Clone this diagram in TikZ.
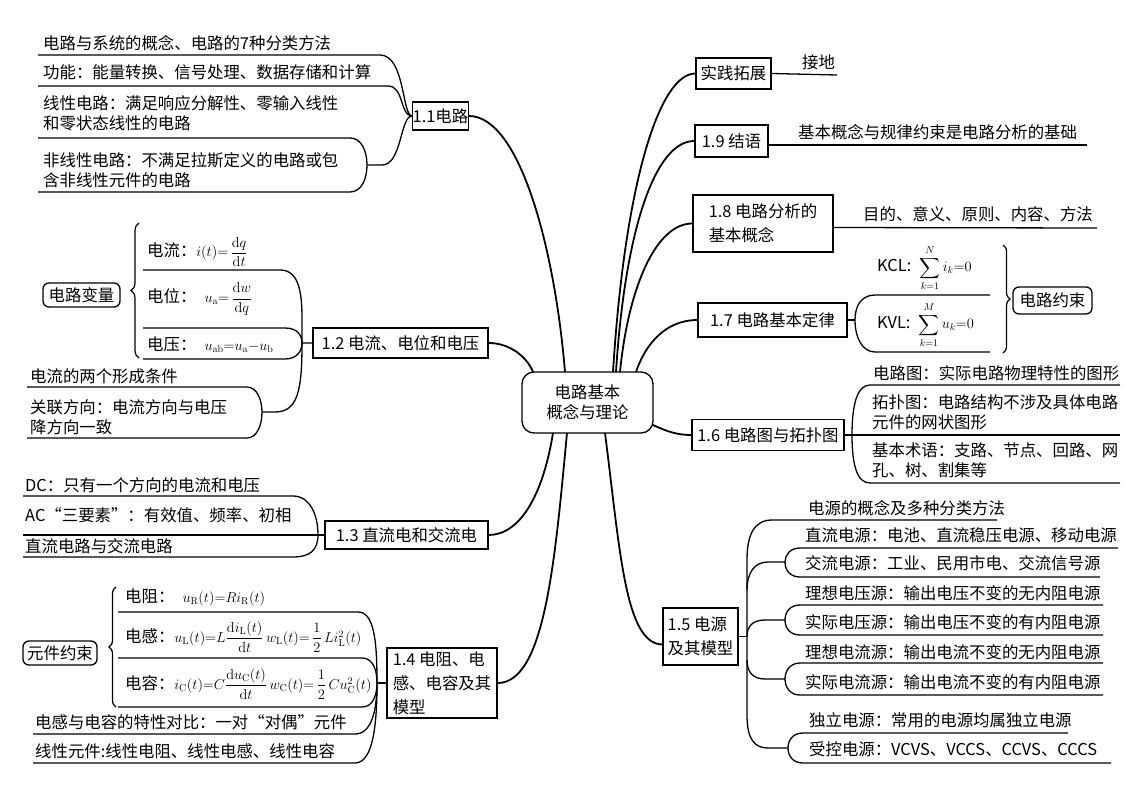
\documentclass[tikz,border=0pt]{standalone}
\usepackage{amsmath}
\usepackage[no-math]{fontspec}
\setmainfont{Noto Sans CJK SC}
\usetikzlibrary{decorations.pathreplacing}
\newcommand\fs{\fontsize{16.4}{20}\selectfont}
\newcommand\fsb{\fontsize{16.4}{24}\selectfont}
\newcommand\mth{\fontsize{14.4}{17}\selectfont}
\newcommand\rmd{\mathrm{d}}
\begin{document}
\begin{tikzpicture}[x=1pt,y=-1pt,
  box/.style={draw,line width=1.3pt,inner sep=0pt,font=\fs,align=center},
  rbox/.style={draw,line width=1.3pt,rounded corners=6pt,inner sep=0pt,font=\fs},
  txt/.style={anchor=west,inner sep=0pt,font=\fs,align=left},
  ln/.style={line width=1.3pt},
  br/.style={line width=1.8pt},
  curly/.style={decorate,decoration={brace,amplitude=8pt},line width=1.2pt}]
\fill[white] (0,0) rectangle (1138,803);
\useasboundingbox (0,0) rectangle (1138,803);

% ---------- boxes ----------
\node[box,rounded corners=12pt,minimum width=131pt,minimum height=61pt] (c) at (587.5,402.5) {电路基本\\概念与理论};
\node[box,minimum width=55pt,minimum height=28pt] (b11) at (440.5,116) {1.1电路};
\node[box,minimum width=175pt,minimum height=30pt] (b12) at (400.5,343) {1.2 电流、电位和电压};
\node[box,minimum width=163pt,minimum height=28pt] (b13) at (406.5,535) {1.3 直流电和交流电};
\node[box,align=left,font=\fsb,minimum width=110pt,minimum height=70pt] (b14) at (442,683) {1.4 电阻、电\\感、电容及其\\模型};
\node[box,align=left,font=\fsb,minimum width=75pt,minimum height=57pt] (b15) at (700.5,636.5) {1.5 电源\\及其模型};
\node[box,minimum width=152pt,minimum height=31pt] (b16) at (768,435) {1.6 电路图与拓扑图};
\node[box,minimum width=149pt,minimum height=34pt] (b17) at (772.5,320) {1.7 电路基本定律};
\node[box,align=left,font=\fsb,minimum width=140pt,minimum height=57pt] (b18) at (763,223.5) {1.8 电路分析的\\基本概念};
\node[box,minimum width=73pt,minimum height=32pt] (b19) at (731.5,141) {1.9 结语};
\node[box,minimum width=75pt,minimum height=31pt] (bsj) at (733.5,73.5) {实践拓展};
\node[rbox,minimum width=77pt,minimum height=24pt] (vars) at (81.5,295) {电路变量};
\node[rbox,minimum width=74pt,minimum height=24pt] (elem) at (60,653) {元件约束};
\node[rbox,minimum width=79pt,minimum height=27pt] (cons) at (1052.5,300.5) {电路约束};

% ---------- center connectors ----------
\coordinate (cA) at (565,372);
\coordinate (cB) at (533,372);
\coordinate (cC) at (613,372);
\coordinate (cD) at (616,372);
\coordinate (cE) at (620,372);
\coordinate (cF) at (636,372);
\coordinate (cG) at (653,425);
\coordinate (cH) at (553,433);
\coordinate (cI) at (567,433);
\coordinate (cJ) at (605,433);
\draw[br] (b11.east) .. controls (520,116) and (555,250) .. (cA);
\draw[br] (b12.east) .. controls (510,343) and (527,357) .. (cB);
\draw[br] (bsj.west) .. controls (660,73.5) and (625,180) .. (cC);
\draw[br] (b19.west) .. controls (655,141) and (625,230) .. (cD);
\draw[br] (b18.west) .. controls (655,223.5) and (628,290) .. (cE);
\draw[br] (b17.west) .. controls (665,320) and (645,345) .. (cF);
\draw[br] (cG) .. controls (668,432) and (678,435) .. (b16.west);
\draw[br] (cH) .. controls (543,495) and (520,535) .. (b13.east);
\draw[br] (cI) .. controls (555,560) and (545,683) .. (b14.east);
\draw[br] (cJ) .. controls (620,550) and (625,644) .. ([yshift=-8pt]b15.west);

% ---------- 1.1 ----------
\node[txt] (t11a) at (43,43) {电路与系统的概念、电路的7种分类方法};
\node[txt] (t11b) at (43,72) {功能：能量转换、信号处理、数据存储和计算};
\node[txt] (t11c) at (43,113) {线性电路：满足响应分解性、零输入线性\\和零状态线性的电路};
\node[txt] (t11d) at (43,170) {非线性电路：不满足拉斯定义的电路或包\\含非线性元件的电路};
\coordinate (j11) at (367,165);
\draw[ln] (38,55) -- (380,55) .. controls (405,55) and (402,116) .. (b11.west);
\draw[ln] (38,86) -- (388,86) .. controls (404,86) and (400,116) .. (b11.west);
\draw[ln] (38,138) -- (350,138) .. controls (362,138) and (367,152) .. (j11) .. controls (367,178) and (362,192) .. (350,192) -- (38,192);
\draw[ln] (j11) -- (382,165) .. controls (402,165) and (400,116) .. (b11.west);

% ---------- 1.2 ----------
\draw[curly] (139,358) -- (139,223);
\node[txt] (t12a) at (147,252) {电流：{\mth$i(t){=}\,\dfrac{\rmd q}{\rmd t}$}};
\node[txt] (t12b) at (147,299) {电位：\enspace{\mth$u_\mathrm{a}{=}\,\dfrac{\rmd w}{\rmd q}$}};
\node[txt] (t12c) at (147,345) {电压：\enspace{\mth$u_\mathrm{ab}{=}u_\mathrm{a}{-}u_\mathrm{b}$}};
\node[txt] (t12d) at (30,376) {电流的两个形成条件};
\node[txt] (t12e) at (30,417) {关联方向：电流方向与电压\\降方向一致};
\coordinate (j12) at (302,343);
\coordinate (k12) at (262,412);
\draw[ln] (143,270) -- (280,270) .. controls (298,270) and (302,290) .. (302,318) -- (j12) -- (b12.west);
\draw[ln] (143,328) -- (285,328) .. controls (297,328) and (302,335) .. (j12);
\draw[ln] (143,359) -- (285,359) .. controls (297,359) and (302,351) .. (j12);
\draw[ln] (27,387) -- (247,387) .. controls (257,387) and (262,400) .. (k12) .. controls (262,425) and (257,438) .. (247,438) -- (27,438);
\draw[ln] (k12) -- (275,412) .. controls (298,412) and (302,390) .. (j12);

% ---------- 1.3 ----------
\node[txt] (t13a) at (25,485) {DC：只有一个方向的电流和电压};
\node[txt] (t13b) at (25,515) {AC“三要素”：有效值、频率、初相};
\node[txt] (t13c) at (25,546) {直流电路与交流电路};
\coordinate (j13) at (318,535);
\draw[ln] (23,496) -- (293,496) .. controls (310,496) and (318,515) .. (j13);
\draw[ln] (23,557) -- (293,557) .. controls (310,557) and (318,550) .. (j13);
\draw[ln] (23,535) -- (b13.west);

% ---------- 1.4 ----------
\draw[curly,decoration={brace,amplitude=7pt}] (116,707) -- (116,587);
\node[txt] (t14a) at (125,597) {电阻：\enspace{\mth$u_\mathrm{R}(t){=}Ri_\mathrm{R}(t)$}};
\node[txt] (t14b) at (125,637) {电感：{\mth$u_\mathrm{L}(t){=}L\dfrac{\rmd i_\mathrm{L}(t)}{\rmd t}\,w_\mathrm{L}(t){=}\,\dfrac{1}{2}\,Li_\mathrm{L}^2(t)$}};
\node[txt] (t14c) at (125,684) {电容：{\mth$i_\mathrm{C}(t){=}C\dfrac{\rmd u_\mathrm{C}(t)}{\rmd t}\,w_\mathrm{C}(t){=}\,\dfrac{1}{2}\,Cu_\mathrm{C}^2(t)$}};
\node[txt] (t14d) at (35,722) {电感与电容的特性对比：一对“对偶”元件};
\node[txt] (t14e) at (35,751) {线性元件:线性电阻、线性电感、线性电容};
\coordinate (j14) at (377,683);
\draw[ln] (118,612) -- (358,612) .. controls (374,612) and (377,640) .. (j14);
\draw[ln] (118,658) -- (362,658) .. controls (373,658) and (377,670) .. (j14);
\draw[ln] (118,707) -- (362,707) .. controls (373,707) and (377,695) .. (j14);
\draw[ln] (33,734) -- (355,734) .. controls (371,734) and (377,712) .. (j14);
\draw[ln] (33,763) -- (355,763) .. controls (373,763) and (377,725) .. (j14);
\draw[ln] (j14) -- (b14.west);

% ---------- right: 实践拓展, 1.9, 1.8 ----------
\node[txt] (tjd) at (802,62) {接地};
\draw[ln] (bsj.east) -- (837,75);
\node[txt] (t19) at (798,132) {基本概念与规律约束是电路分析的基础};
\draw[ln] ([yshift=-4pt]b19.east) -- (1087,145);
\node[txt] (t18) at (863,214) {目的、意义、原则、内容、方法};
\draw[ln] ([yshift=-4pt]b18.east) -- (1097,228);

% ---------- 1.7 ----------
\coordinate (j17) at (855,320);
\draw[ln] (b17.east) -- (j17);
\draw[ln] (990,295) -- (875,295) .. controls (862,295) and (855,305) .. (j17) .. controls (855,337) and (862,352) .. (875,352) -- (990,352);
\node[txt] (kcl) at (877,268) {KCL:\enspace{\mth$\displaystyle\sum_{k=1}^{N} i_k{=}0$}};
\node[txt] (kvl) at (877,325) {KVL:\enspace{\mth$\displaystyle\sum_{k=1}^{M} u_k{=}0$}};
\draw[curly,decoration={brace,amplitude=7pt}] (1003,245) -- (1003,353);

% ---------- 1.6 ----------
\node[txt] (t16a) at (873,373) {电路图：实际电路物理特性的图形};
\node[txt] (t16b) at (872,412) {拓扑图：电路结构不涉及具体电路\\元件的网状图形};
\node[txt] (t16c) at (872,460) {基本术语：支路、节点、回路、网\\孔、树、割集等};
\coordinate (j16) at (852,435);
\draw[ln] (b16.east) -- (1120,435);
\draw[ln] (1120,385) -- (870,385) .. controls (857,385) and (852,405) .. (j16) .. controls (852,465) and (857,483) .. (870,483) -- (1120,483);

% ---------- 1.5 ----------
\node[txt] (t15a) at (808,508) {电源的概念及多种分类方法};
\node[txt] (t15b) at (805,535) {直流电源：电池、直流稳压电源、移动电源};
\node[txt] (t15c) at (805,563) {交流电源：工业、民用市电、交流信号源};
\node[txt] (t15d) at (805,593) {理想电压源：输出电压不变的无内阻电源};
\node[txt] (t15e) at (805,622) {实际电压源：输出电压不变的有内阻电源};
\node[txt] (t15f) at (805,652) {理想电流源：输出电流不变的无内阻电源};
\node[txt] (t15g) at (805,682) {实际电流源：输出电流不变的有内阻电源};
\node[txt] (t15h) at (809,720) {独立电源：常用的电源均属独立电源};
\node[txt] (t15i) at (809,749) {受控电源：VCVS、VCCS、CCVS、CCCS};
\coordinate (j15) at (747,636.5);
\draw[ln] (b15.east) -- (j15);
\draw[ln] (997,520) -- (772,520) .. controls (754,520) and (747,535) .. (747,560) -- (747,715) .. controls (747,740) and (755,748) .. (768,748) -- (788,748);
\draw[ln] (1118,548) -- (800,548) .. controls (790,548) and (785,555) .. (785,562) .. controls (785,570) and (790,577) .. (800,577) -- (1100,577);
\draw[ln] (785,562) -- (768,562) .. controls (755,562) and (747,572) .. (747,590);
\draw[ln] (1103,605) -- (800,605) .. controls (790,605) and (785,612) .. (785,620) .. controls (785,628) and (790,635) .. (800,635) -- (1103,635);
\draw[ln] (785,620) -- (765,620) .. controls (753,620) and (747,626) .. (j15);
\draw[ln] (1103,663) -- (800,663) .. controls (790,663) and (785,671) .. (785,679) .. controls (785,687) and (790,695) .. (800,695) -- (1103,695);
\draw[ln] (785,679) -- (765,679) .. controls (753,679) and (747,672) .. (747,660);
\draw[ln] (1068,733) -- (803,733) .. controls (793,733) and (788,740) .. (788,748) .. controls (788,756) and (793,763) .. (803,763) -- (1111,763);
\end{tikzpicture}
\end{document}
